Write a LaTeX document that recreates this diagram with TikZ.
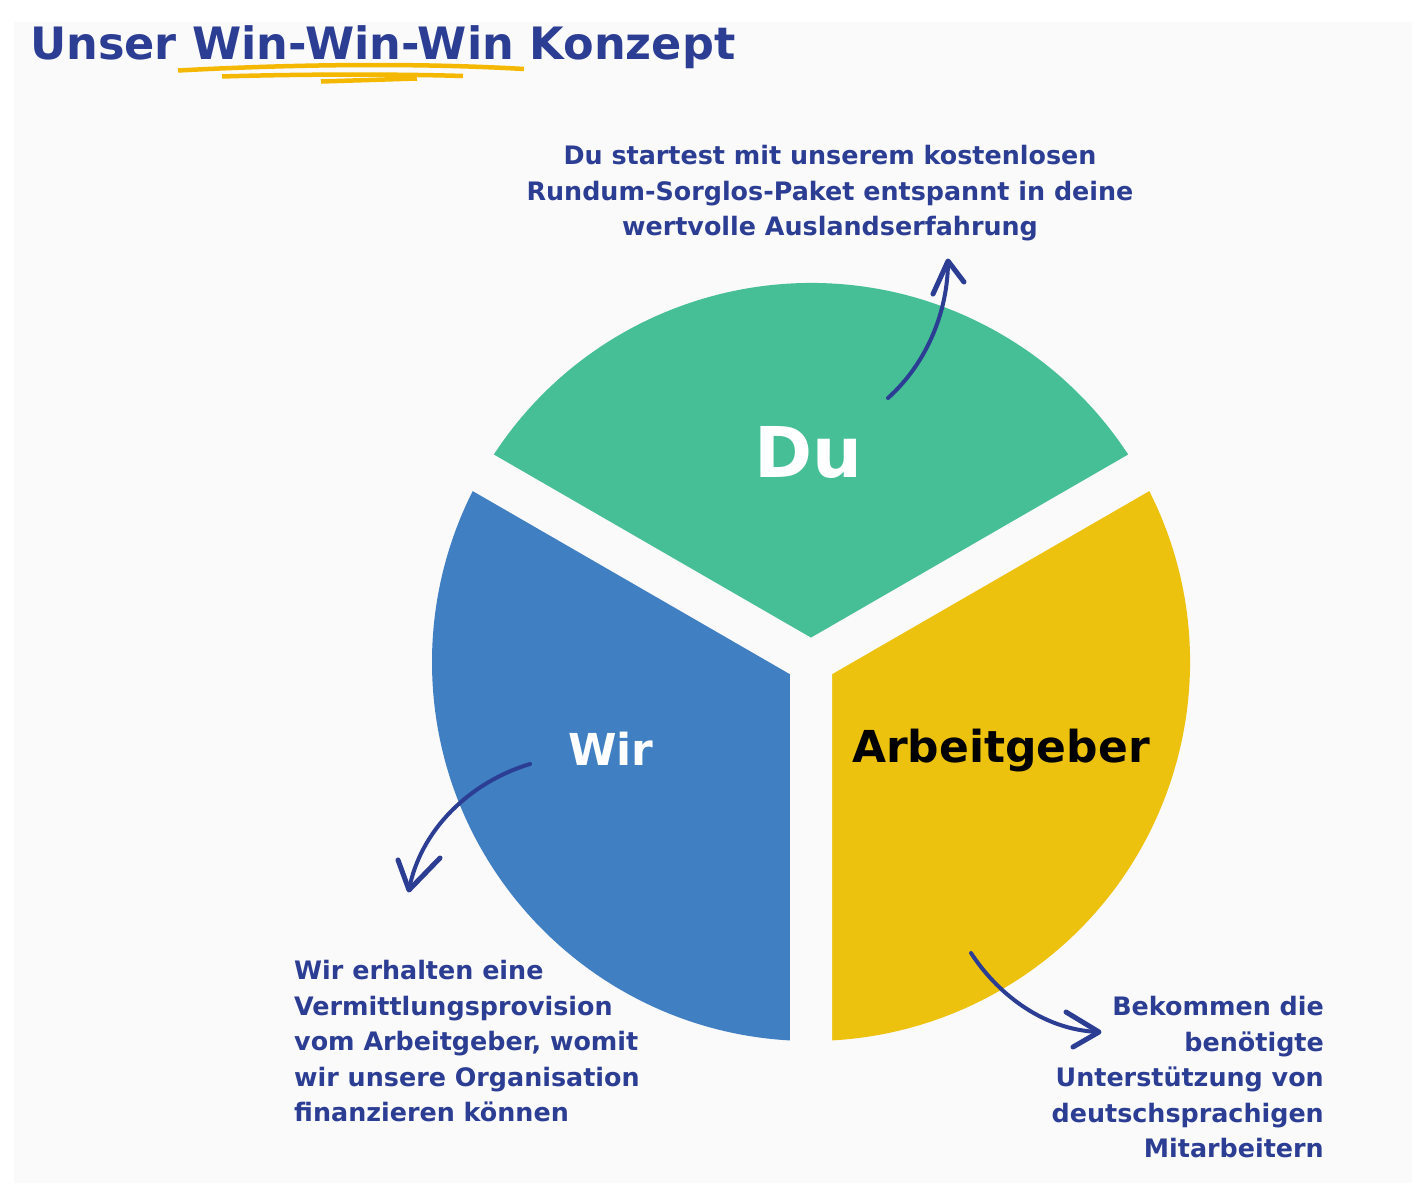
\documentclass[tikz,border=0pt]{standalone}
\usepackage{fontspec}
\setmainfont{DejaVu Sans}
\definecolor{bggray}{HTML}{FAFAFA}
\definecolor{pgreen}{HTML}{46BF97}
\definecolor{pblue}{HTML}{3F7FC2}
\definecolor{pyellow}{HTML}{EDC20E}
\definecolor{txtblue}{HTML}{2C3E94}
\definecolor{ulyellow}{HTML}{F5B800}
\begin{document}
\begin{tikzpicture}[x=1pt,y=-1pt,
  txt/.style={text=txtblue, font=\bfseries\fontsize{25.4}{35.5}\selectfont, inner sep=0pt},
  biglabel/.style={font=\bfseries\fontsize{44}{50}\selectfont, inner sep=0pt, anchor=base},
  curvy/.style={draw=txtblue, line width=4pt, line cap=round, line join=round},
  brush/.style={draw=ulyellow, line width=4.5pt, line cap=butt}]
\useasboundingbox (0,0) rectangle (1419,1183);
\fill[white] (0,0) rectangle (1419,1183);
\fill[bggray] (14,22) rectangle (1412,1183);
% title
\node[anchor=base west, inner sep=0pt, text=txtblue, font=\bfseries\fontsize{44.6}{50}\selectfont] (title) at (30,59) {Unser Win-Win-Win Konzept};
\draw[brush] (178,70.5) .. controls (300,64) and (420,63) .. (524,69);
\draw[brush] (222,76.5) .. controls (300,74) and (400,74) .. (463,76);
\draw[brush] (321,81.5) -- (417,78.5);
% pie
\coordinate (C) at (811,662);
\fill[pgreen] (C) -- +(210:379) arc[start angle=210,end angle=330,radius=379] -- cycle;
\fill[pblue] (C) -- +(90:379) arc[start angle=90,end angle=210,radius=379] -- cycle;
\fill[pyellow] (C) -- +(-30:379) arc[start angle=-30,end angle=90,radius=379] -- cycle;
\draw[bggray, line width=42pt] (C) -- +(90:400) (C) -- +(210:400) (C) -- +(330:400);
% labels
\node[biglabel, text=white, font=\bfseries\fontsize{70}{72}\selectfont] (du) at (808,477) {Du};
\node[biglabel, text=white] (wir) at (611,765) {Wir};
\node[biglabel, text=black] (ag) at (1001,762) {Arbeitgeber};
% text blocks
\node[txt, align=center, anchor=north] (tdu) at (830,145) {Du startest mit unserem kostenlosen\\Rundum-Sorglos-Paket entspannt in deine\\wertvolle Auslandserfahrung};
\node[txt, align=left, anchor=north west] (twir) at (294,960) {Wir erhalten eine\\Vermittlungsprovision\\vom Arbeitgeber, womit\\wir unsere Organisation\\finanzieren können};
\node[txt, align=right, anchor=north east] (tag) at (1324,996) {Bekommen die\\benötigte\\Unterstützung von\\deutschsprachigen\\Mitarbeitern};
% arrows
\coordinate (a1s) at (888,398); \coordinate (a1t) at (948,261);
\coordinate (a1l) at (933,294); \coordinate (a1r) at (964,282);
\draw[curvy] (a1s) .. controls (928,362) and (948,310) .. (a1t);
\draw[curvy, line width=5pt] (a1l) -- (a1t) -- (a1r);
\coordinate (a2s) at (530,764); \coordinate (a2t) at (409,890);
\coordinate (a2l) at (398,860); \coordinate (a2r) at (440,858);
\draw[curvy] (a2s) .. controls (470,782) and (420,830) .. (a2t);
\draw[curvy, line width=5pt] (a2l) -- (a2t) -- (a2r);
\coordinate (a3s) at (971,953); \coordinate (a3t) at (1099,1032);
\coordinate (a3u) at (1066,1012); \coordinate (a3d) at (1073,1047);
\draw[curvy] (a3s) .. controls (995,990) and (1040,1030) .. (a3t);
\draw[curvy, line width=5pt] (a3u) -- (a3t) -- (a3d);
\end{tikzpicture}
\end{document}
